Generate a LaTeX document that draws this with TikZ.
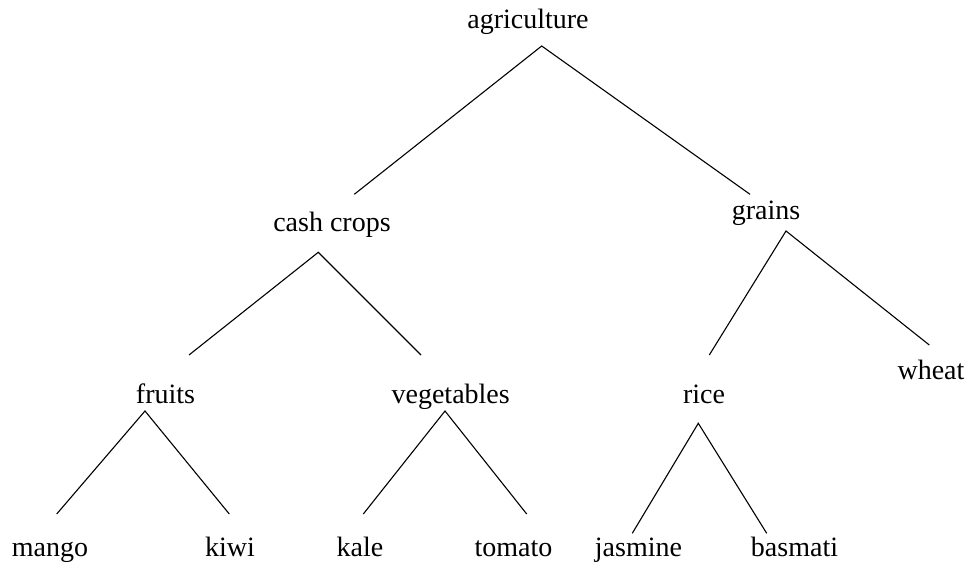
\documentclass[tikz,border=0pt]{standalone}
\usepackage{fontspec}
\setmainfont{Liberation Serif}
\begin{document}
\begin{tikzpicture}[x=1pt,y=-1pt,
  lbl/.style={anchor=base,inner sep=0pt,font=\fontsize{28}{32}\selectfont},
  edge/.style={draw=black,line width=1.1pt}]
\useasboundingbox (0,0) rectangle (970,565);
% labels
\node[lbl] (agri) at (528,28.5) {agriculture};
\node[lbl] (cash) at (332,231) {cash crops};
\node[lbl] (grains) at (766,219) {grains};
\node[lbl] (fruits) at (165.5,403) {fruits};
\node[lbl] (veg) at (450.7,403) {vegetables};
\node[lbl] (rice) at (704,403) {rice};
\node[lbl] (wheat) at (931,379) {wheat};
\node[lbl] (mango) at (50,556) {mango};
\node[lbl] (kiwi) at (230,556) {kiwi};
\node[lbl] (kale) at (360,556) {kale};
\node[lbl] (tomato) at (513.5,556) {tomato};
\node[lbl] (jasmine) at (638.5,556) {jasmine};
\node[lbl] (basmati) at (794.5,556) {basmati};
% connector end points
\coordinate (agri-b) at (541.7,46);
\coordinate (cash-t) at (354.3,194.3);
\coordinate (grains-t) at (750,194.3);
\coordinate (cash-b) at (318.3,252.3);
\coordinate (fruits-t) at (189,355);
\coordinate (veg-t) at (421,355);
\coordinate (grains-b) at (786,231);
\coordinate (rice-t) at (709.3,355);
\coordinate (wheat-t) at (929.3,345);
\coordinate (fruits-b) at (145,411);
\coordinate (mango-t) at (56.7,514);
\coordinate (kiwi-t) at (229.3,514);
\coordinate (veg-b) at (445,411);
\coordinate (kale-t) at (363.3,514);
\coordinate (tomato-t) at (526.7,514);
\coordinate (rice-b) at (698.3,423.3);
\coordinate (jasmine-t) at (632.3,533.3);
\coordinate (basmati-t) at (766.7,533.3);
% connectors
\draw[edge] (cash-t) -- (agri-b) -- (grains-t);
\draw[edge] (fruits-t) -- (cash-b) -- (veg-t);
\draw[edge] (rice-t) -- (grains-b) -- (wheat-t);
\draw[edge] (mango-t) -- (fruits-b) -- (kiwi-t);
\draw[edge] (kale-t) -- (veg-b) -- (tomato-t);
\draw[edge] (jasmine-t) -- (rice-b) -- (basmati-t);
\end{tikzpicture}
\end{document}
